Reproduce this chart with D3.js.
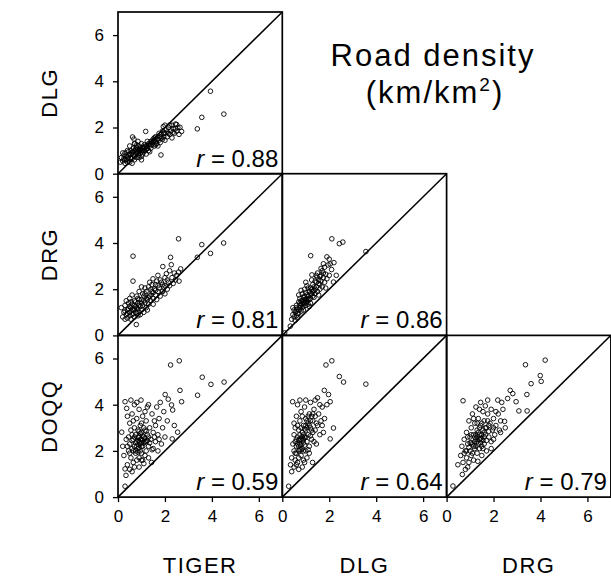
<!DOCTYPE html>
<html>
<head>
<meta charset="utf-8">
<script src="https://cdn.jsdelivr.net/npm/d3@7"></script>
<style>
  body { margin: 0; background: #fff; }
  text { font-family: "Liberation Sans", Arial, sans-serif; fill: #000; }
</style>
</head>
<body>
<div id="chart"></div>
<script>
// variable names, rows are y, columns are x
var rowNames = ['DLG', 'DRG', 'DOQQ']
var colNames = ['TIGER', 'DLG', 'DRG']
var tickValues = [0, 2, 4, 6]

// [x, y] pairs (km/km2)
var tigerDlg = [[0.1,0.5],[0.15,0.7],[0.2,0.55],[0.25,0.8],[0.3,0.6],[0.3,0.9],[0.35,0.75],[0.4,0.5],[0.4,1.0],[0.45,0.65],[0.5,0.85],[0.5,1.2],[0.55,0.7],[0.55,1.0],[0.6,0.45],[0.6,0.9],[0.62,1.59],[0.65,0.8],[0.65,1.1],[0.7,0.6],[0.7,1.3],[0.72,1.0],[0.75,0.85],[0.78,1.15],[0.8,0.7],[0.8,0.95],[0.85,1.05],[0.85,1.4],[0.88,0.8],[0.9,1.0],[0.9,1.2],[0.95,0.9],[0.95,1.1],[1.0,0.75],[1.0,1.0],[1.0,1.3],[1.05,1.15],[1.1,0.95],[1.1,1.1],[1.12,1.25],[1.15,1.0],[1.18,1.83],[1.2,1.2],[1.2,0.85],[1.25,1.1],[1.3,1.3],[1.3,1.0],[1.35,1.2],[1.4,1.4],[1.4,1.1],[1.45,1.25],[1.5,1.35],[1.5,1.5],[1.55,1.2],[1.6,1.4],[1.6,1.6],[1.65,1.3],[1.7,1.5],[1.7,1.2],[1.75,1.45],[1.8,1.6],[1.8,1.35],[1.83,0.81],[1.85,1.7],[1.9,1.5],[1.93,2.04],[1.95,1.6],[2.0,1.75],[2.0,1.45],[2.05,1.9],[2.1,1.6],[2.1,1.8],[2.15,2.0],[2.2,1.7],[2.25,1.85],[2.3,2.1],[2.3,1.55],[2.35,1.95],[2.4,1.75],[2.45,2.15],[2.5,2.13],[2.5,1.85],[2.55,2.0],[2.64,2.01],[2.71,1.83],[2.6,1.7],[3.38,1.94],[3.57,2.44],[3.94,3.57],[4.51,2.58],[0.72,1.3],[0.3,0.45],[0.45,0.95],[0.6,0.65],[1.0,0.6],[0.8,1.25],[1.25,1.4],[1.35,0.95],[1.05,0.85],[0.5,0.5],[0.2,0.9],[0.68,1.5],[0.9,0.7],[1.55,1.55],[1.75,1.75],[1.9,1.85],[2.2,2.1],[2.0,2.1],
  [0.35,0.6],[0.45,0.8],[0.55,0.85],[0.65,0.95],[0.75,1.05],[0.85,0.95],[0.95,1.05],[1.05,1.0],[1.15,1.15],[1.25,1.2],[1.35,1.3],[1.45,1.4],[1.55,1.45],[1.65,1.5],[1.85,1.55],[1.95,1.75],[2.15,1.75],[2.35,1.8],[2.45,1.95],[0.25,0.65],[0.4,0.7],[0.7,0.75],[1.2,1.05],[1.6,1.25]]

var tigerDrg = [[0.14,1.2],[0.2,0.8],[0.25,1.0],[0.3,0.7],[0.3,1.3],[0.35,0.9],[0.4,1.1],[0.4,0.75],[0.45,1.4],[0.5,0.85],[0.5,1.0],[0.5,1.6],[0.55,1.2],[0.6,0.9],[0.6,1.35],[0.64,2.35],[0.64,3.43],[0.65,1.1],[0.7,0.8],[0.7,1.5],[0.75,1.0],[0.75,1.25],[0.78,0.47],[0.8,1.7],[0.8,0.95],[0.85,1.15],[0.85,1.4],[0.9,1.0],[0.9,1.9],[0.95,1.25],[1.0,1.1],[1.0,1.55],[1.0,2.1],[1.05,1.3],[1.1,1.0],[1.1,1.7],[1.15,1.4],[1.2,1.2],[1.2,1.9],[1.25,1.55],[1.3,1.35],[1.3,2.1],[1.35,1.7],[1.4,1.5],[1.45,1.9],[1.49,2.45],[1.5,1.6],[1.55,2.0],[1.6,1.75],[1.6,2.2],[1.65,1.55],[1.7,2.6],[1.7,1.9],[1.75,2.05],[1.8,1.7],[1.85,2.3],[1.9,1.9],[1.91,2.98],[1.95,2.1],[2.0,2.5],[2.0,1.8],[2.06,2.67],[2.1,2.0],[2.15,2.3],[2.2,2.15],[2.24,3.38],[2.27,3.06],[2.3,2.5],[2.35,2.25],[2.4,2.7],[2.45,2.4],[2.5,2.6],[2.58,2.74],[2.58,4.18],[2.67,2.88],[2.6,2.35],[3.38,3.38],[3.57,3.93],[3.94,3.55],[4.5,4.0],[0.35,1.5],[0.55,0.7],[0.45,1.15],[0.7,1.3],[0.95,0.9],[1.05,1.8],[1.25,1.1],[1.4,2.0],[1.15,2.05],[0.9,1.55],[0.6,1.75],[0.3,1.05],[1.8,2.4],[2.0,2.15],[1.5,1.35],[0.85,0.85],[1.35,2.3],[2.2,2.8],[1.65,2.35],
  [0.4,0.95],[0.5,1.25],[0.6,1.1],[0.65,0.95],[0.7,1.15],[0.75,1.45],[0.8,1.2],[0.9,1.3],[1.0,1.4],[1.1,1.5],[1.2,1.6],[1.3,1.65],[1.4,1.75],[1.5,1.85],[1.6,1.95],[1.7,2.15],[1.9,2.2],[2.1,2.4],[0.55,1.45],[0.85,1.6],[1.15,1.8],[1.45,2.2]]

var dlgDrg = [[0.1,0.11],[0.34,0.4],[0.4,0.7],[0.45,0.9],[0.5,0.8],[0.5,1.1],[0.55,1.0],[0.6,0.85],[0.6,1.3],[0.65,1.15],[0.7,0.95],[0.7,1.45],[0.75,1.2],[0.75,1.6],[0.8,1.05],[0.8,1.35],[0.85,1.5],[0.85,1.8],[0.9,1.25],[0.9,1.65],[0.95,1.4],[0.95,2.0],[1.0,1.3],[1.0,1.55],[1.0,1.85],[1.05,2.15],[1.05,1.45],[1.1,1.7],[1.1,1.35],[1.15,1.9],[1.15,1.55],[1.2,2.05],[1.2,1.6],[1.21,3.45],[1.25,1.8],[1.26,2.62],[1.3,2.2],[1.3,1.7],[1.35,1.95],[1.4,2.35],[1.4,1.8],[1.45,2.1],[1.48,2.52],[1.5,1.9],[1.5,2.7],[1.55,2.25],[1.6,2.0],[1.6,2.55],[1.65,2.35],[1.7,2.8],[1.7,2.1],[1.75,2.5],[1.8,2.95],[1.8,2.3],[1.85,2.65],[1.9,3.40],[1.9,2.45],[1.95,3.05],[2.0,2.6],[2.04,3.09],[2.1,2.85],[2.11,4.18],[2.18,2.31],[2.2,3.15],[2.3,2.6],[2.43,3.97],[2.58,4.04],[3.56,3.63],[0.55,0.65],[0.65,0.75],[0.7,1.75],[0.6,1.05],[0.8,1.95],[0.9,1.1],[1.0,2.3],[1.1,2.05],[1.2,1.4],[1.35,1.65],[1.45,2.6],[1.55,1.75],[1.65,2.9],[1.75,3.1],[1.85,2.05],[2.0,3.3],[0.95,1.7],[1.25,2.4],[0.45,1.2],[1.05,1.6],[0.75,1.4],[1.4,2.0],[1.6,2.2],[1.15,1.25],
  [0.6,1.2],[0.7,1.1],[0.75,1.3],[0.8,1.5],[0.85,1.2],[0.9,1.45],[0.95,1.55],[1.0,1.45],[1.05,1.75],[1.1,1.55],[1.2,1.8],[1.3,1.9],[1.35,2.1],[1.45,2.3],[1.55,2.4],[1.65,2.6],[1.75,2.7],[0.65,0.95],[0.85,1.35],[1.25,2.0]]

var tigerDoqq = [[0.3,0.47],[0.34,0.94],[0.3,1.22],[0.16,2.81],[0.2,2.2],[0.25,1.8],[0.3,4.13],[0.37,3.84],[0.55,4.2],[0.98,4.2],[0.4,1.4],[0.45,2.0],[0.45,2.6],[0.5,1.2],[0.5,2.3],[0.5,3.2],[0.55,1.7],[0.55,2.9],[0.6,2.1],[0.6,3.6],[0.65,1.5],[0.65,2.5],[0.7,2.2],[0.7,3.0],[0.7,4.0],[0.75,1.9],[0.75,2.7],[0.8,1.6],[0.8,2.4],[0.8,3.4],[0.85,2.1],[0.85,2.9],[0.9,1.3],[0.9,2.6],[0.9,3.8],[0.95,2.3],[0.95,3.1],[1.0,1.9],[1.0,2.5],[1.0,2.8],[1.05,1.6],[1.05,2.2],[1.05,3.5],[1.1,2.6],[1.1,3.0],[1.15,1.8],[1.15,2.4],[1.2,2.0],[1.2,3.3],[1.25,2.7],[1.25,3.9],[1.3,2.2],[1.3,1.7],[1.35,3.0],[1.4,2.5],[1.43,1.5],[1.45,3.6],[1.5,2.1],[1.5,2.8],[1.55,3.3],[1.6,2.4],[1.65,3.9],[1.7,2.7],[1.7,2.0],[1.75,3.4],[1.8,4.1],[1.85,2.3],[1.9,3.0],[1.95,3.7],[2.01,4.44],[2.14,4.24],[2.0,2.6],[2.1,3.3],[2.24,5.72],[2.28,3.99],[2.31,2.52],[2.33,3.77],[2.4,3.1],[2.54,2.81],[2.61,5.9],[2.64,4.62],[2.71,4.13],[3.39,4.41],[3.59,5.19],[3.96,4.88],[4.52,4.98],[0.35,2.5],[0.4,3.5],[0.6,1.1],[0.65,3.3],[0.75,2.0],[0.85,2.45],[0.9,2.15],[0.95,2.75],[1.0,2.35],[1.1,1.45],[1.2,2.85],[1.35,2.35],[1.45,2.05],[1.15,3.7],[0.8,4.1],[1.55,2.6],[1.6,3.1],[0.5,1.9],[0.7,1.3],[1.3,4.0],[1.75,2.5],[0.4,2.2],[1.0,3.2],[0.6,2.7],[1.25,2.45],[0.9,1.7],
  [0.8,2.2],[0.85,2.6],[0.9,2.4],[0.95,2.5],[1.0,2.2],[1.05,2.65],[1.1,2.35],[1.15,2.55],[0.75,2.35],[0.7,2.6],[0.95,2.0],[1.05,2.45],[1.2,2.4],[0.85,1.95],[1.0,1.6],[0.65,2.0],[1.3,2.6],[1.15,2.9],[0.6,2.45],[0.9,2.85]]

var dlgDoqq = [[0.27,0.47],[0.44,4.13],[0.35,1.4],[0.4,1.1],[0.4,1.7],[0.45,2.3],[0.5,1.3],[0.5,2.0],[0.5,2.7],[0.55,1.6],[0.55,2.4],[0.55,3.0],[0.6,1.9],[0.6,2.2],[0.6,3.5],[0.65,1.5],[0.65,2.6],[0.65,4.0],[0.7,2.0],[0.7,2.9],[0.7,1.2],[0.75,2.3],[0.75,3.3],[0.75,4.2],[0.8,1.8],[0.8,2.5],[0.8,3.7],[0.85,2.1],[0.85,2.8],[0.9,1.6],[0.9,2.35],[0.9,3.1],[0.95,2.6],[0.95,3.9],[1.0,2.0],[1.0,2.9],[1.0,3.4],[1.05,2.4],[1.05,1.7],[1.1,3.2],[1.1,2.7],[1.15,3.6],[1.15,2.2],[1.2,3.0],[1.2,4.1],[1.25,2.5],[1.29,1.5],[1.3,3.3],[1.3,2.8],[1.35,3.8],[1.4,2.9],[1.4,3.5],[1.45,2.3],[1.5,3.1],[1.5,4.3],[1.55,3.6],[1.6,2.7],[1.6,4.0],[1.65,3.3],[1.7,3.9],[1.75,2.8],[1.79,4.62],[1.8,3.4],[1.86,5.72],[1.9,4.0],[1.97,4.44],[2.04,4.13],[2.04,2.52],[2.18,2.99],[2.11,5.9],[2.43,5.22],[2.61,4.98],[3.56,4.89],[0.6,1.4],[0.7,2.45],[0.8,3.0],[0.85,1.3],[0.9,2.0],[0.95,2.25],[1.0,2.6],[1.05,3.0],[1.1,2.05],[1.2,2.65],[1.25,3.5],[1.35,2.4],[1.45,3.2],[0.5,3.2],[0.65,3.1],[0.75,2.7],[0.85,3.5],[1.15,1.9],[1.0,4.2],[1.7,3.1],[1.4,4.2],[0.55,1.9],[0.95,1.5],
  [0.7,2.2],[0.75,2.05],[0.8,2.25],[0.85,2.45],[0.9,2.7],[0.95,2.95],[1.0,3.1],[1.05,3.3],[1.1,3.5],[1.15,3.1],[1.2,3.3],[0.8,2.05],[0.75,2.5],[0.85,2.6],[1.3,3.6],[1.25,2.9],[0.65,2.3],[0.7,1.7],[0.6,2.5],[0.9,2.5]]

var drgDoqq = [[0.27,0.48],[0.48,1.4],[0.67,0.98],[0.7,4.17],[0.6,1.8],[0.65,2.2],[0.7,1.5],[0.75,2.5],[0.8,1.2],[0.8,2.0],[0.85,1.7],[0.85,2.8],[0.9,2.3],[0.95,1.5],[0.95,3.3],[1.0,2.0],[1.0,2.6],[1.05,1.8],[1.05,3.0],[1.1,2.3],[1.1,3.6],[1.15,1.6],[1.15,2.7],[1.2,2.1],[1.2,3.2],[1.25,2.5],[1.25,3.9],[1.3,1.9],[1.3,2.9],[1.33,1.55],[1.35,2.3],[1.35,3.4],[1.4,2.7],[1.4,2.1],[1.45,3.1],[1.45,4.1],[1.5,2.5],[1.5,1.8],[1.55,2.9],[1.55,3.7],[1.6,2.3],[1.6,3.3],[1.65,2.7],[1.7,2.0],[1.7,3.0],[1.75,3.6],[1.75,4.2],[1.8,2.6],[1.85,3.2],[1.9,2.4],[1.9,3.8],[1.95,2.9],[2.0,3.4],[2.05,2.7],[2.1,3.1],[2.18,4.2],[2.2,3.6],[2.25,2.9],[2.3,3.3],[2.4,3.8],[2.47,3.28],[2.5,3.0],[2.6,4.27],[2.71,4.62],[2.82,4.48],[2.96,4.13],[3.08,3.73],[3.43,3.73],[3.42,4.44],[3.36,5.73],[3.6,4.91],[3.99,5.26],[4.03,5.01],[4.2,5.93],[0.75,1.9],[0.9,1.3],[1.0,2.35],[1.1,1.9],[1.2,2.6],[1.3,2.4],[1.4,3.8],[1.5,2.2],[1.6,2.8],[1.7,2.45],[1.8,3.1],[1.9,2.1],[2.0,2.5],[2.1,3.7],[2.3,2.8],[1.45,2.55],[1.25,2.2],[1.05,2.7],[0.9,2.6],[1.65,3.95],[2.35,4.1],[1.15,3.4],[1.55,2.1],
  [1.2,2.4],[1.3,2.6],[1.4,2.5],[1.5,2.7],[1.35,2.8],[1.25,2.7],[1.45,2.35],[1.55,2.45],[1.15,2.2],[1.05,2.35],[1.6,2.6],[1.65,3.0],[1.4,3.0],[1.5,3.2],[0.95,2.15],[1.8,2.85],[1.75,3.3],[2.0,3.0],[1.3,3.2],[0.85,2.0]]

// correlation shown in each panel
var rLabels = ['0.88', '0.81', '0.86', '0.59', '0.64', '0.79']

var panels = [
  {row: 0, col: 0, points: tigerDlg, r: rLabels[0]},
  {row: 1, col: 0, points: tigerDrg, r: rLabels[1]},
  {row: 1, col: 1, points: dlgDrg, r: rLabels[2]},
  {row: 2, col: 0, points: tigerDoqq, r: rLabels[3]},
  {row: 2, col: 1, points: dlgDoqq, r: rLabels[4]},
  {row: 2, col: 2, points: drgDoqq, r: rLabels[5]}
]

var width = 611, height = 587
var marginLeft = 118, marginTop = 12
var cellW = 164.3, cellH = 161.7
var maxV = 7

var svg = d3.select('#chart').append('svg')
    .attr('width', width)
    .attr('height', height)

function xScale(col) {
    return d3.scaleLinear().domain([0, maxV]).range([marginLeft + col*cellW, marginLeft + (col+1)*cellW])
}
function yScale(row) {
    return d3.scaleLinear().domain([0, maxV]).range([marginTop + (row+1)*cellH, marginTop + row*cellH])
}

panels.forEach(p => {
    var x = xScale(p.col)
    var y = yScale(p.row)
    var g = svg.append('g')
    g.append('line')
        .attr('x1', x(0)).attr('y1', y(0))
        .attr('x2', x(maxV)).attr('y2', y(maxV))
        .attr('stroke', '#000')
        .attr('stroke-width', 1.5)
    g.selectAll('circle')
        .data(p.points)
        .enter()
        .append('circle')
        .attr('cx', d => x(d[0]))
        .attr('cy', d => y(d[1]))
        .attr('r', 2.3)
        .attr('fill', 'none')
        .attr('stroke', '#000')
        .attr('stroke-width', 0.9)
    g.append('rect')
        .attr('x', x(0)).attr('y', y(maxV))
        .attr('width', x(maxV) - x(0))
        .attr('height', y(0) - y(maxV))
        .attr('fill', 'none')
        .attr('stroke', '#000')
        .attr('stroke-width', 1.7)
    var t = g.append('text')
        .attr('x', x(maxV) - 4)
        .attr('y', y(0) - 7)
        .attr('text-anchor', 'end')
        .attr('font-size', 24)
    t.append('tspan').attr('font-style', 'italic').text('r')
    t.append('tspan').text(' = ' + p.r)
})

// y axes on the left of the first column
rowNames.forEach((name, i) => {
    var y = yScale(i)
    var ax = svg.append('g')
        .attr('transform', 'translate(' + marginLeft + ',0)')
        .call(d3.axisLeft(y).tickValues(tickValues).tickSize(5).tickPadding(9).tickFormat(d3.format('d')))
    ax.select('.domain').remove()
    ax.selectAll('line').attr('stroke-width', 1.3)
    ax.selectAll('text').attr('font-size', 17).attr('font-family', '"Liberation Sans", Arial, sans-serif')
    svg.append('text')
        .attr('transform', 'translate(57,' + y(maxV/2) + ') rotate(-90)')
        .attr('text-anchor', 'middle')
        .attr('font-size', 22)
        .attr('letter-spacing', 1.5)
        .text(name)
})

// x axes under the last row
colNames.forEach((name, i) => {
    var x = xScale(i)
    var ax = svg.append('g')
        .attr('transform', 'translate(0,' + (marginTop + 3*cellH) + ')')
        .call(d3.axisBottom(x).tickValues(tickValues).tickSize(5).tickPadding(8).tickFormat(d3.format('d')))
    ax.select('.domain').remove()
    ax.selectAll('line').attr('stroke-width', 1.3)
    ax.selectAll('text').attr('font-size', 17).attr('font-family', '"Liberation Sans", Arial, sans-serif')
    svg.append('text')
        .attr('x', x(maxV/2))
        .attr('y', 573)
        .attr('text-anchor', 'middle')
        .attr('font-size', 22)
        .attr('letter-spacing', 1.5)
        .text(name)
})

// title
var title = svg.append('text')
    .attr('text-anchor', 'middle')
    .attr('font-size', 31)
    .attr('letter-spacing', 2)
title.append('tspan').attr('x', 433).attr('y', 66).text('Road density')
var sub = title.append('tspan').attr('x', 435).attr('y', 103)
sub.append('tspan').text('(km/km')
sub.append('tspan').attr('font-size', 19).attr('dy', -12).text('2')
sub.append('tspan').attr('dy', 12).text(')')
</script>
</body>
</html>
